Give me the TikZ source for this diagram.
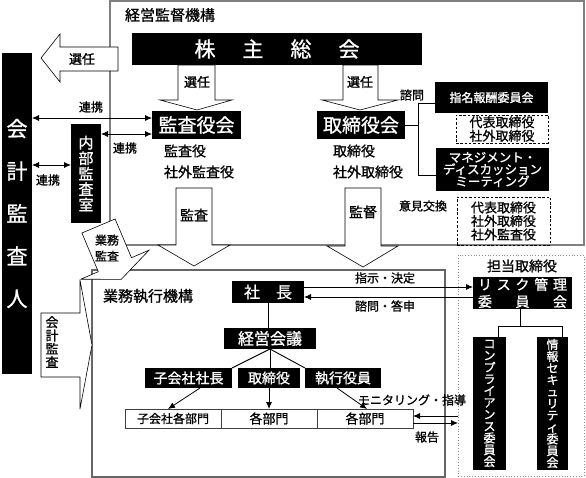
\documentclass[tikz,border=0pt]{standalone}
\usepackage{fontspec}
\setmainfont{Noto Sans CJK JP}[FakeBold=1]
\usetikzlibrary{arrows.meta,calc}
\newcommand\jf[2]{\fontsize{#1}{#2}\selectfont\lineskiplimit=-30pt\relax}
\begin{document}
\begin{tikzpicture}[x=1pt,y=-1pt,
  blk/.style={fill=black,text=white,inner sep=0pt,outer sep=0pt},
  lbl/.style={inner sep=0pt,outer sep=0pt,text=black},
  dbox/.style={draw=black,line width=0.7pt,dash pattern=on 2.5pt off 1.8pt,inner sep=0pt,outer sep=0pt},
  wbox/.style={draw=black!75,line width=0.7pt,fill=white,inner sep=0pt,outer sep=0pt},
  barrow/.style={draw=black,fill=white,line width=0.6pt,line join=miter},
  conn/.style={line width=0.9pt},
  arr/.style={-{Latex[length=7pt,width=6pt]},line width=0.8pt},
  darr/.style={{Latex[length=7pt,width=6pt]}-{Latex[length=7pt,width=6pt]},line width=0.8pt}]
\useasboundingbox (0,0) rectangle (586,478);
\fill[white] (0,0) rectangle (586,478);

% frames
\draw[line width=1.3pt,black!50] (110,1) rectangle (584,245);
\draw[line width=1.3pt,black!60] (92,270) rectangle (445,477);
\draw[line width=0.8pt,black!45,dotted] (458,255) rectangle (584,476);

% block arrows
\draw[barrow] (41,58) -- (60,34) -- (60,47) -- (118,47) -- (118,71) -- (60,71) -- (60,82) -- cycle;
\draw[barrow] (178,65) -- (178,100) -- (160,100) -- (197,110) -- (232,100) -- (215,100) -- (215,65) -- cycle;
\draw[barrow] (343,65) -- (343,100) -- (322,100) -- (360,110) -- (398,100) -- (378,100) -- (378,65) -- cycle;
\draw[barrow] (176,188) -- (176,245) -- (158,245) -- (194,266) -- (230,245) -- (212,245) -- (212,188) -- cycle;
\draw[barrow] (345,188) -- (345,246) -- (327,246) -- (363,267) -- (398,246) -- (381,246) -- (381,188) -- cycle;
\draw[barrow] (41,313) -- (80,313) -- (80,280) -- (92,345) -- (80,409) -- (80,377) -- (41,377) -- cycle;
\draw[barrow] (81.9,233.0) -- (115.1,219.0) -- (131.5,257.7) -- (149,250.2) -- (121.2,279.4) -- (80.8,279.2) -- (98.3,271.7) -- cycle;

% frame titles
\node[lbl,anchor=west,font=\jf{15}{15}] (t1) at (125,15) {経営監督機構};
\node[lbl,anchor=west,font=\jf{15}{15}] (t2) at (103,296) {業務執行機構};
\node[lbl,font=\jf{14}{14}] (tanto) at (522,266) {担当取締役};

% arrow labels
\node[lbl,font=\jf{13}{13}] (s0) at (82,59) {選任};
\node[lbl,font=\jf{13}{13}] (s1) at (197,82) {選任};
\node[lbl,font=\jf{13}{13}] (s2) at (360,82) {選任};
\node[lbl,font=\jf{14}{14}] (s3) at (194,215) {監査};
\node[lbl,font=\jf{14}{14}] (s4) at (363,212) {監督};
\node[lbl,align=center,font=\jf{12}{16}] (s5) at (107,248) {業務\\監査};
\node[lbl,align=center,font=\jf{13}{13.3}] (s6) at (52,342) {会\\計\\監\\査};

% upper nodes
\node[blk,minimum width=290pt,minimum height=32pt,font=\jf{21}{21}] (kabu) at (277,49) {株\hspace{27pt}主\hspace{27pt}総\hspace{27pt}会};
\node[blk,minimum width=89pt,minimum height=28pt,font=\jf{19}{19}] (kansa) at (196.5,125) {監査役会};
\node[blk,minimum width=88pt,minimum height=28pt,font=\jf{19}{19}] (tori) at (361,125) {取締役会};
\node[lbl,anchor=west,font=\jf{14}{14}] (ks1) at (164,151) {監査役};
\node[lbl,anchor=west,font=\jf{14}{14}] (ks2) at (164,172) {社外監査役};
\node[lbl,anchor=west,font=\jf{14}{14}] (tr1) at (333,151) {取締役};
\node[lbl,anchor=west,font=\jf{14}{14}] (tr2) at (333,172) {社外取締役};
\node[blk,minimum width=113pt,minimum height=31pt,font=\jf{12}{12}] (shimei) at (491.5,97.5) {指名報酬委員会};
\node[dbox,minimum width=92pt,minimum height=28pt,align=center,font=\jf{13}{13.5}] (d1) at (502,129) {代表取締役\\社外取締役};
\node[blk,minimum width=113pt,minimum height=43pt,align=center,font=\jf{12.5}{12}] (mdm) at (492.5,169.5) {マネジメント・\\ディスカッション\\ミーティング};
\node[dbox,minimum width=93pt,minimum height=48pt,align=center,font=\jf{13}{13.5}] (d2) at (503.5,221) {代表取締役\\社外取締役\\社外監査役};
\node[lbl,font=\jf{12}{12}] (shimon) at (412,95) {諮問};
\node[lbl,font=\jf{12}{12}] (iken) at (423,206) {意見交換};

% left nodes
\node[blk,minimum width=30pt,minimum height=321pt,align=center,font=\jf{21}{42.5}] (kaikei) at (17,213.5) {会\\計\\監\\査\\人};
\node[blk,minimum width=30pt,minimum height=99pt,align=center,font=\jf{15}{15.5}] (naibu) at (86,173.5) {内\\部\\監\\査\\室};
\node[lbl,font=\jf{12}{12}] (r1) at (91,107) {連携};
\node[lbl,font=\jf{12}{12}] (r2) at (48,180) {連携};
\node[lbl,font=\jf{12}{12}] (r3) at (125,148) {連携};

% execution nodes
\node[blk,minimum width=72pt,minimum height=22pt,font=\jf{16}{16}] (shacho) at (268,292) {社　長};
\node[blk,minimum width=92pt,minimum height=21pt,font=\jf{16}{16}] (keiei) at (270,338.5) {経営会議};
\node[blk,minimum width=87pt,minimum height=20pt,font=\jf{14}{14}] (kosha) at (188.5,378) {子会社社長};
\node[blk,minimum width=62pt,minimum height=20pt,font=\jf{14}{14}] (tori2) at (269,378) {取締役};
\node[blk,minimum width=76pt,minimum height=20pt,font=\jf{14}{14}] (shikko) at (343,378) {執行役員};
\node[wbox,minimum width=96pt,minimum height=19pt,font=\jf{12}{12}] (bu1) at (173,418.5) {子会社各部門};
\node[wbox,minimum width=96pt,minimum height=19pt,font=\jf{13}{13}] (bu2) at (269,418.5) {各部門};
\node[wbox,minimum width=96pt,minimum height=19pt,font=\jf{13}{13}] (bu3) at (365,418.5) {各部門};

% right nodes
\node[blk,minimum width=99pt,minimum height=32pt,align=center,font=\jf{14}{17}] (risk) at (522.5,293) {\makebox[89pt]{リ\hfill ス\hfill ク\hfill 管\hfill 理}\\\makebox[89pt]{委\hfill 員\hfill 会}};
\node[blk,minimum width=33pt,minimum height=133pt,align=center,font=\jf{12}{11.8}] (comp) at (489.5,403.5) {コ\\ン\\プ\\ラ\\イ\\ア\\ン\\ス\\委\\員\\会};
\node[blk,minimum width=31pt,minimum height=133pt,align=center,font=\jf{12}{11.8}] (info) at (552.5,403.5) {情\\報\\セ\\キ\\ュ\\リ\\テ\\ィ\\委\\員\\会};
\node[lbl,font=\jf{12}{12}] (l1) at (385,278) {指示・決定};
\node[lbl,font=\jf{12}{12}] (l2) at (385,306) {諮問・答申};
\node[lbl,font=\jf{12}{12}] (l3) at (412,400) {モニタリング・指導};
\node[lbl,font=\jf{12}{12}] (l4) at (427,437) {報告};

% connectors
\coordinate (jt) at (418,103);
\coordinate (jb) at (418,175);
\draw[conn] (shimei.west |- jt) -- (jt) -- (jb) -- (mdm.west |- jb);
\draw[conn] (tori.east) -- (tori.east -| jt);

\draw[darr] (kaikei.east |- 0,118) -- (kansa.west |- 0,118);
\draw[darr] (naibu.east |- 0,134) -- (kansa.west |- 0,134);
\draw[darr] (kaikei.east |- 0,165) -- (naibu.west |- 0,165);

\draw[conn] (shacho.south) -- (shacho.south |- keiei.north);
\draw[conn] (keiei.south) -- (kosha.north east);
\draw[conn] (keiei.south) -- (keiei.south |- tori2.north);
\draw[conn] (keiei.south) -- (shikko.north west);
\draw[arr] ($(kosha.south)+(11.5,0)$) -- ($(bu1.north)+(-5,0)$);
\draw[arr] (tori2.south) -- (tori2.south |- bu2.north);
\draw[arr] ($(shikko.south)+(-6,0)$) -- ($(bu3.north)+(2,0)$);

\draw[arr] (shacho.east |- 0,287) -- (risk.west |- 0,287);
\draw[arr] (risk.west |- 0,297) -- (shacho.east |- 0,297);
\coordinate (mo) at (458,416);
\coordinate (ho) at (458,423);
\draw[arr] (mo) -- (bu3.east |- mo);
\draw[arr] (bu3.east |- ho) -- (ho);

\coordinate (rj) at (520,326);
\draw[conn] (risk.south -| rj) -- (rj);
\draw[conn] (comp.north -| 498,0) -- (498,326) -- (562,326) -- (info.north -| 562,0);
\end{tikzpicture}
\end{document}
